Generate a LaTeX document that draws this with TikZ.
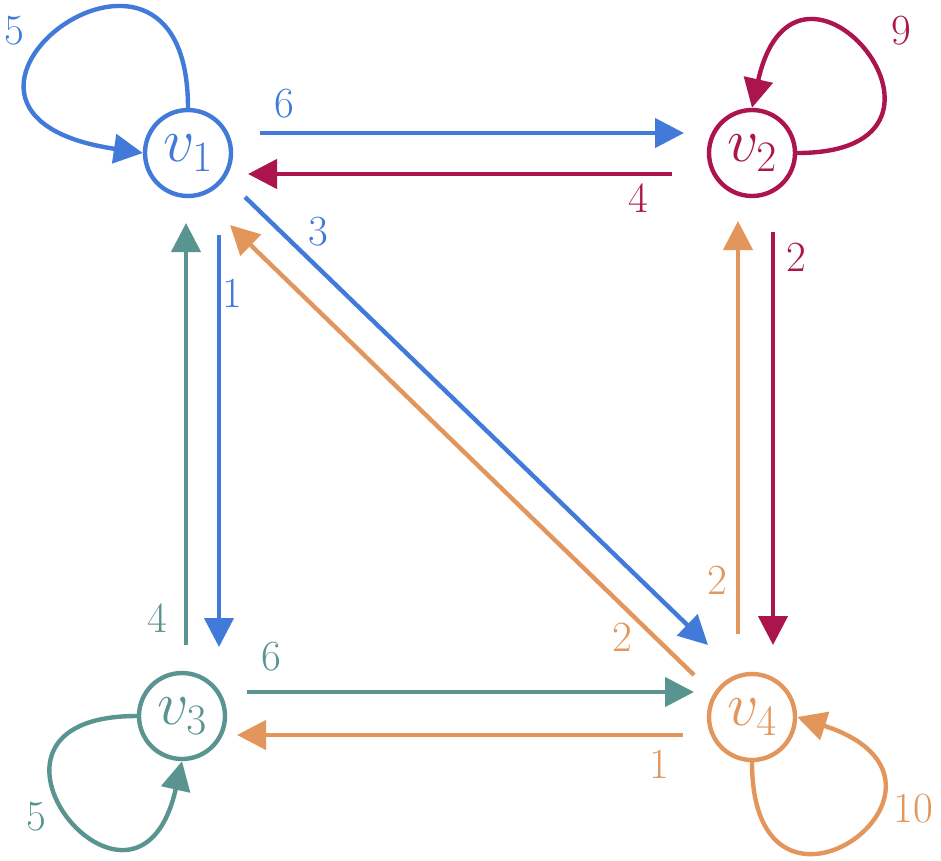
\documentclass[tikz,border=0pt]{standalone}
\usepackage{fix-cm}
\usetikzlibrary{arrows.meta}
\definecolor{cblue}{RGB}{66,122,218}
\definecolor{cred}{RGB}{172,20,78}
\definecolor{cteal}{RGB}{90,148,145}
\definecolor{corange}{RGB}{226,150,92}
\tikzset{
  vert/.style={circle, draw, line width=4.4pt, minimum size=86pt, inner sep=0pt,
    font=\fontsize{62}{64}\selectfont},
  edge/.style={line width=4.4pt, -{Triangle[length=29pt,width=29pt]}},
  lbl/.style={font=\fontsize{43}{45}\selectfont, inner sep=0pt},
}
\begin{document}
\begin{tikzpicture}[x=1pt,y=-1pt]
\useasboundingbox (0,0) rectangle (941,860);
% vertices
\node[vert, cblue]   (v1) at (188,153) {$v_1$};
\node[vert, cred]    (v2) at (752,153) {$v_2$};
\node[vert, cteal]   (v3) at (182,716) {$v_3$};
\node[vert, corange] (v4) at (752,717) {$v_4$};
% straight edges
\draw[edge, cblue]   ([shift={(72,-20)}]v1.center) -- ([shift={(-68,-20)}]v2.center);
\draw[edge, cred]    ([shift={(-80,21)}]v2.center) -- ([shift={(60,21)}]v1.center);
\draw[edge, cblue]   ([shift={(31,82)}]v1.center) -- ([shift={(37,-69)}]v3.center);
\draw[edge, cteal]   ([shift={(4,-71)}]v3.center) -- ([shift={(-2,70)}]v1.center);
\draw[edge, cred]    ([shift={(21,79)}]v2.center) -- ([shift={(21,-72)}]v4.center);
\draw[edge, corange] ([shift={(-14,-83)}]v4.center) -- ([shift={(-14,68)}]v2.center);
\draw[edge, cteal]   ([shift={(65,-24)}]v3.center) -- ([shift={(-58,-25)}]v4.center);
\draw[edge, corange] ([shift={(-69,18)}]v4.center) -- ([shift={(55,19)}]v3.center);
\draw[edge, cblue]   ([shift={(57,44)}]v1.center) -- ([shift={(-44,-72)}]v4.center);
\draw[edge, corange] ([shift={(-58,-42)}]v4.center) -- ([shift={(42,72)}]v1.center);
% self loops
\draw[edge, cblue]   (v1.north) .. controls +(0,-235) and +(-270,-40) .. (v1.west);
\draw[edge, cred]    (v2.east)  .. controls +(200,0) and +(45,-200) .. (v2.north);
\draw[edge, cteal]   (v3.west)  .. controls +(-200,0) and +(-45,200) .. (v3.south);
\draw[edge, corange] (v4.south) .. controls +(0,200) and +(200,65) .. (v4.east);
% labels
\node[lbl, text=cblue]   (l12) at (284,104) {6};
\node[lbl, text=cred]    (l21) at (638,198) {4};
\node[lbl, text=cblue]   (l14) at (318,232) {3};
\node[lbl, text=cblue]   (l13) at (232,293) {1};
\node[lbl, text=cteal]   (l31) at (157,618) {4};
\node[lbl, text=cred]    (l24) at (796,257) {2};
\node[lbl, text=corange] (l42) at (717,580) {2};
\node[lbl, text=corange] (l41) at (622,637) {2};
\node[lbl, text=cteal]   (l34) at (271,657) {6};
\node[lbl, text=corange] (l43) at (659,764) {1};
\node[lbl, text=cblue]   (l11) at (14,31) {5};
\node[lbl, text=cred]    (l22) at (901,31) {9};
\node[lbl, text=cteal]   (l33) at (36,817) {5};
\node[lbl, text=corange] (l44) at (913,809) {10};
\end{tikzpicture}
\end{document}
